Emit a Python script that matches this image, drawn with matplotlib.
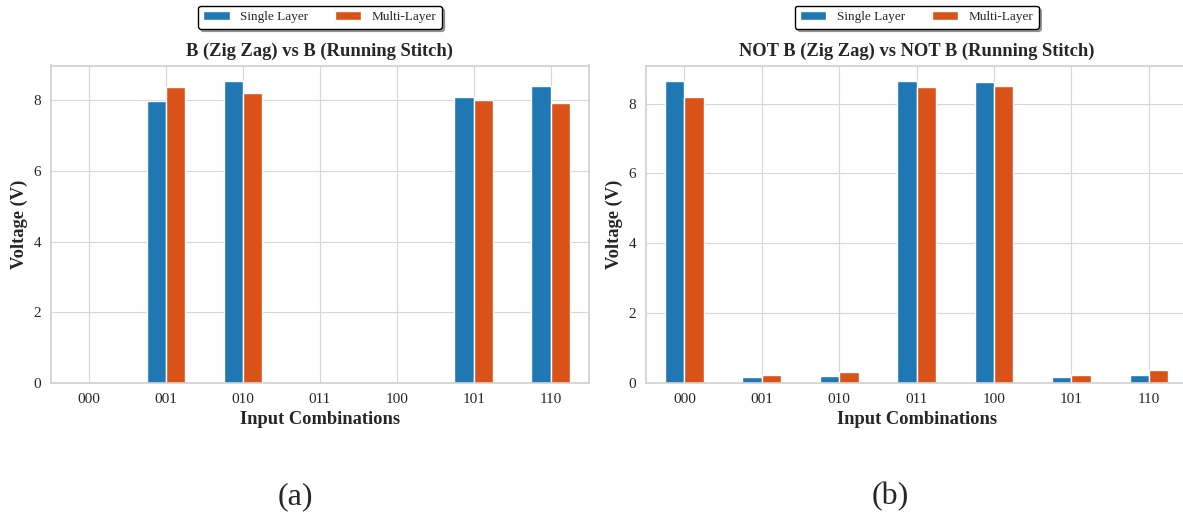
import numpy as np
import matplotlib
matplotlib.use("Agg")
import matplotlib.pyplot as plt
import seaborn as sns
from matplotlib.patches import Patch

# ===== DATA =====
COMBOS = ["000", "001", "010", "011", "100", "101", "110"]
B_SINGLE = [0.0, 7.97, 8.55, 0.0, 0.0, 8.10, 8.40]
B_MULTI = [0.0, 8.37, 8.19, 0.0, 0.0, 7.99, 7.92]
NOTB_SINGLE = [8.66, 0.17, 0.21, 8.64, 8.63, 0.17, 0.22]
NOTB_MULTI = [8.18, 0.24, 0.31, 8.49, 8.52, 0.24, 0.37]

TITLES = ["B (Zig Zag) vs B (Running Stitch)", "NOT B (Zig Zag) vs NOT B (Running Stitch)"]
PANEL_LABELS = ["(a)", "(b)"]
SERIES = ["Single Layer", "Multi-Layer"]

BLUE = "#1f77b4"
ORANGE = "#d95319"
BAR_W = 0.25

sns.set_style("whitegrid")
plt.rcParams["font.family"] = ["Liberation Serif", "DejaVu Serif"]
plt.rcParams["axes.edgecolor"] = "#d0d0d0"
plt.rcParams["grid.color"] = "#d6d6d6"


def draw_panel(ax, single, multi, title):
    x = np.arange(len(COMBOS))
    ax.bar(x - BAR_W / 2, single, BAR_W, color=BLUE, edgecolor="white", linewidth=1.0, zorder=2)
    ax.bar(x + BAR_W / 2, multi, BAR_W, color=ORANGE, edgecolor="white", linewidth=1.0, zorder=2)
    ax.set_xlim(-0.5, len(COMBOS) - 0.5)
    ax.set_xticks(x)
    ax.set_xticklabels(COMBOS)
    ax.set_yticks([0, 2, 4, 6, 8])
    ax.tick_params(axis="both", labelsize=11, length=0, pad=7)
    ax.set_title(title, fontsize=13.3, fontweight="bold", pad=7)
    ax.set_xlabel("Input Combinations", fontsize=13.3, fontweight="bold", labelpad=4)
    ax.set_ylabel("Voltage (V)", fontsize=13.3, fontweight="bold", labelpad=4)
    handles = [Patch(facecolor=BLUE, edgecolor="white"), Patch(facecolor=ORANGE, edgecolor="white")]
    leg = ax.legend(handles, SERIES, loc="center", bbox_to_anchor=(0.5, 1.152), ncol=2,
                    fontsize=9.5, frameon=True, shadow=True, fancybox=True)
    leg.get_frame().set_edgecolor("black")
    leg.get_frame().set_linewidth(1.0)
    for sp in ax.spines.values():
        sp.set_linewidth(1.2)


fig = plt.figure(figsize=(11.83, 5.17), dpi=100)
ax1 = fig.add_axes([50.7 / 1183, 134 / 517, 538.3 / 1183, 317.5 / 517])
ax2 = fig.add_axes([645.7 / 1183, 134 / 517, 541.9 / 1183, 317.5 / 517])

draw_panel(ax1, B_SINGLE, B_MULTI, TITLES[0])
draw_panel(ax2, NOTB_SINGLE, NOTB_MULTI, TITLES[1])

fig.text(295 / 1183, 1 - 497 / 517, PANEL_LABELS[0], fontsize=23, ha="center", va="center")
fig.text(890 / 1183, 1 - 497 / 517, PANEL_LABELS[1], fontsize=23, ha="center", va="center")

fig.savefig("out.png", dpi=100)
